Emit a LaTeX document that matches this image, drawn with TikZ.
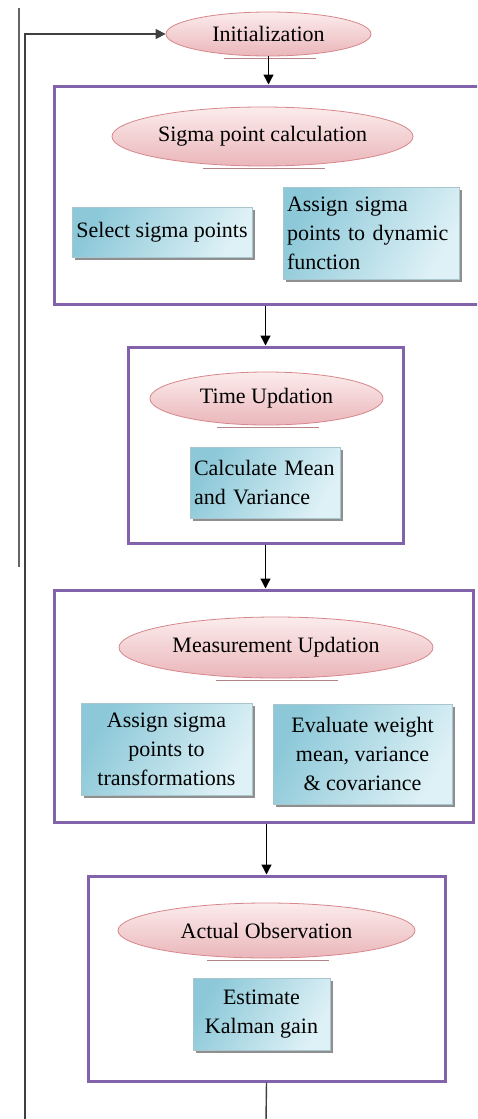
\documentclass[tikz,border=0pt]{standalone}
\usepackage{fontspec}
\setmainfont{Liberation Serif}
\usetikzlibrary{shapes.geometric,arrows.meta,shadows}
\definecolor{boxpurple}{RGB}{130,98,170}
\definecolor{ellborder}{RGB}{215,135,140}
\definecolor{elltop}{RGB}{252,236,236}
\definecolor{ellbot}{RGB}{234,182,186}
\definecolor{cyandark}{RGB}{140,200,216}
\definecolor{cyanlight}{RGB}{222,241,246}
\definecolor{linegray}{RGB}{90,90,90}
\tikzset{
  container/.style={draw=boxpurple, line width=3pt, rectangle, inner sep=0pt},
  oval/.style={ellipse, draw=ellborder, line width=0.8pt, top color=elltop, bottom color=ellbot,
    inner sep=0pt, font=\fontsize{22}{26}\selectfont},
  task/.style={rectangle, draw=cyandark!80!black!60, line width=0.5pt, left color=cyandark, right color=cyanlight,
    shading angle=60, inner sep=0pt, font=\fontsize{22}{29}\selectfont,
    drop shadow={shadow xshift=2.5pt, shadow yshift=-2.5pt, fill=black!55, opacity=0.8}},
  flow/.style={draw=black, line width=1.3pt, -{Triangle[length=10pt,width=10pt]}},
  plain/.style={draw=black!75, line width=1.4pt},
  uline/.style={draw=ellborder!60!gray, line width=1.5pt}
}
\begin{document}
\begin{tikzpicture}[x=1pt,y=-1pt]
\clip (0,0) rectangle (477,1119);
\fill[white] (0,0) rectangle (477,1119);
% containers
\node[container, minimum width=436pt, minimum height=218pt] (c1) at (272,195) {};
\node[container, minimum width=275pt, minimum height=196pt] (c2) at (265.5,445) {};
\node[container, minimum width=419pt, minimum height=232pt] (c3) at (263.5,706) {};
\node[container, minimum width=357pt, minimum height=205pt] (c4) at (266.5,978.5) {};
% ovals
\node[oval, minimum width=205pt, minimum height=44pt] (init) at (268.5,34) {Initialization};
\node[oval, minimum width=301pt, minimum height=59pt] (sig) at (262.5,136.5) {Sigma point calculation};
\node[oval, minimum width=233pt, minimum height=53pt] (time) at (266.5,398.5) {Time Updation};
\node[oval, minimum width=314pt, minimum height=61pt] (meas) at (276,647.5) {Measurement Updation};
\node[oval, minimum width=297pt, minimum height=55pt] (act) at (266.5,930.5) {Actual Observation};
% underline shadows
\draw[uline] ([xshift=-45pt,yshift=-2pt]init.south) -- ([xshift=47pt,yshift=-2pt]init.south);
\draw[uline] ([xshift=-60pt,yshift=-2pt]sig.south) -- ([xshift=62pt,yshift=-2pt]sig.south);
\draw[uline] ([xshift=-50pt,yshift=-2pt]time.south) -- ([xshift=52pt,yshift=-2pt]time.south);
\draw[uline] ([xshift=-60pt,yshift=-2pt]meas.south) -- ([xshift=62pt,yshift=-2pt]meas.south);
\draw[uline] ([xshift=-60pt,yshift=-2pt]act.south) -- ([xshift=62pt,yshift=-2pt]act.south);
% task boxes
\node[task, minimum width=180pt, minimum height=50pt] (sel) at (162,232) {Select sigma points};
\node[task, minimum width=176pt, minimum height=92pt, text width=168pt, align=left] (asd) at (371,233) {Assign sigma\\points to dynamic\\function};
\node[task, minimum width=150pt, minimum height=71pt, text width=142pt, align=left] (calc) at (265,482.5) {Calculate Mean\\and Variance};
\node[task, minimum width=171pt, minimum height=92pt, align=center] (ast) at (166.5,749) {Assign sigma\\points to\\transformations};
\node[task, minimum width=179pt, minimum height=100pt, align=center] (eval) at (362.5,754) {Evaluate weight\\mean, variance\\\& covariance};
\node[task, minimum width=137pt, minimum height=72pt, align=center] (est) at (261.5,1014) {Estimate\\Kalman gain};
% coordinates for free ends
\coordinate (topA) at (19,8);
\coordinate (botA) at (19,567);
\coordinate (fb) at (25,1122);
\coordinate (endl) at (266,1122);
% connectors
\draw[flow] (init.south) -- (init.south |- c1.north);
\draw[flow] (c2.north |- c1.south) -- (c2.north);
\draw[flow] (c2.south) -- (c2.south |- c3.north);
\draw[flow] (c4.north |- c3.south) -- (c4.north);
\draw[plain] (c4.south) -- (endl);
\draw[plain, -{Triangle[length=10pt,width=10pt]}] (fb) |- (init.west);
\draw[draw=black!60, line width=1.3pt] (topA) -- (botA);
\end{tikzpicture}
\end{document}
